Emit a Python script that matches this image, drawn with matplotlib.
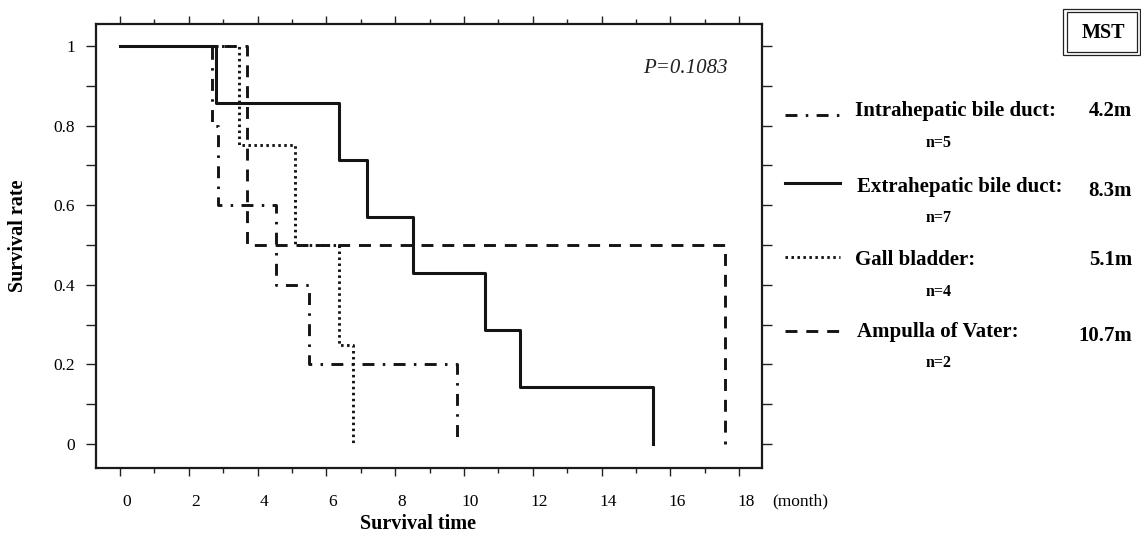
import matplotlib
matplotlib.use("Agg")
import matplotlib.pyplot as plt
import matplotlib.transforms as mtransforms
from matplotlib.lines import Line2D
from matplotlib.patches import Rectangle
from matplotlib.ticker import MultipleLocator, FuncFormatter

plt.rcParams["font.family"] = ["Liberation Serif", "DejaVu Serif"]
plt.rcParams["lines.scale_dashes"] = False

# ===============================
# Kaplan-Meier curves (months, survival rate)
# ===============================
intra_t = [0, 2.66, 2.85, 4.53, 5.49, 9.8]
intra_s = [1, 0.8, 0.6, 0.4, 0.2, 0]
extra_t = [0, 2.8, 6.37, 7.18, 8.52, 10.61, 11.63, 15.49]
extra_s = [1, 0.857, 0.714, 0.571, 0.429, 0.286, 0.143, 0]
gall_t = [0, 3.46, 5.09, 6.37, 6.77]
gall_s = [1, 0.75, 0.5, 0.25, 0]
amp_t = [0, 3.69, 17.59]
amp_s = [1, 0.5, 0]

names = ["Intrahepatic bile duct:", "Extrahepatic bile duct:", "Gall bladder:", "Ampulla of Vater:"]
n_cases = ["n=5", "n=7", "n=4", "n=2"]
mst = ["4.2m", "8.3m", "5.1m", "10.7m"]
p_text = "P=0.1083"

curves = [(intra_t, intra_s), (extra_t, extra_s), (gall_t, gall_s), (amp_t, amp_s)]
styles = [(0, (8.6, 6.0, 1.8, 6.0)), "-", (0, (1.8, 2.5)), (0, (8.6, 6.4))]
widths = [2.1, 2.2, 2.1, 2.1]

# ===============================
# Figure
# ===============================
W, H = 1141, 538
fig = plt.figure(figsize=(W / 100, H / 100), dpi=100)
ax = fig.add_axes([96 / W, 70 / H, 666 / W, 444 / H])

for (t, s), ls, lw in zip(curves, styles, widths):
    ax.step(t, s, where="post", color="#141414", linestyle=ls, linewidth=lw)

ax.set_xlim(-0.7, 18.66)
ax.set_ylim(-0.06, 1.055)

ax.xaxis.set_major_locator(MultipleLocator(2))
ax.xaxis.set_minor_locator(MultipleLocator(1))
ax.yaxis.set_major_locator(MultipleLocator(0.2))
ax.yaxis.set_minor_locator(MultipleLocator(0.1))
ax.yaxis.set_major_formatter(FuncFormatter(lambda v, p: "0" if abs(v) < 1e-9 else ("1" if abs(v - 1) < 1e-9 else f"{v:.1f}")))

ax.tick_params(axis="x", which="both", direction="out", top=True, bottom=True, width=1.0, color="#222222")
ax.tick_params(axis="x", which="major", length=6, pad=13, labelsize=12.5)
ax.tick_params(axis="x", which="minor", length=3.5)
ax.tick_params(axis="y", which="both", direction="out", left=True, right=True, length=7, width=1.0, color="#222222")
ax.tick_params(axis="y", which="major", pad=8, labelsize=12.5)

for sp in ax.spines.values():
    sp.set_linewidth(1.6)
    sp.set_color("#1a1a1a")

shift = mtransforms.ScaledTranslation(0.065, 0, fig.dpi_scale_trans)
for lab in ax.get_xticklabels():
    lab.set_transform(lab.get_transform() + shift)

ax.text(0.949, 0.90, p_text, transform=ax.transAxes, fontsize=15, style="italic",
        ha="right", va="center", color="#222222")

# ===============================
# Overlay in pixel coordinates (labels, legend, MST box)
# ===============================
ov = fig.add_axes([0, 0, 1, 1])
ov.set_xlim(0, W)
ov.set_ylim(H, 0)
ov.axis("off")

ov.text(18, 236, "Survival rate", fontsize=14.5, fontweight="bold", rotation=90, ha="center", va="center")
ov.text(418, 524, "Survival time", fontsize=14.5, fontweight="bold", ha="center", va="center")
ov.text(772, 501, "(month)", fontsize=12.5, ha="left", va="center")

name_y = [111, 187, 260, 332]
n_y = [143, 218, 292, 363]
mst_y = [111, 191, 260, 336]
line_y = [115, 183, 257, 331]
name_x = [855, 857, 855, 857]
for i in range(4):
    ov.add_line(Line2D([785, 840], [line_y[i], line_y[i]], color="#141414",
                       linestyle=styles[i], linewidth=widths[i]))
    ov.text(name_x[i], name_y[i], names[i], fontsize=15, fontweight="bold", ha="left", va="center")
    ov.text(939, n_y[i], n_cases[i], fontsize=11.5, fontweight="bold", ha="center", va="center")
    ov.text(1132, mst_y[i], mst[i], fontsize=15, fontweight="bold", ha="right", va="center")

ov.add_patch(Rectangle((1063, 9), 77, 46, fill=False, linewidth=0.9, edgecolor="#222222"))
ov.add_patch(Rectangle((1067, 12), 70, 40, fill=False, linewidth=0.9, edgecolor="#222222"))
ov.text(1103, 33, "MST", fontsize=14.5, fontweight="bold", ha="center", va="center")

fig.savefig("out.png", dpi=100)
